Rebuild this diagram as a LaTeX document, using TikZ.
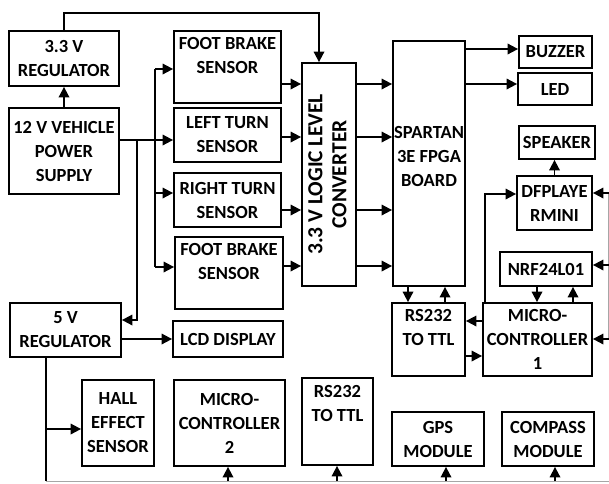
\documentclass[tikz,border=0pt]{standalone}
\usepackage{fontspec}
\usepackage{graphicx}
\setmainfont{Carlito}
\usetikzlibrary{arrows.meta}
\begin{document}
\begin{tikzpicture}[x=1pt,y=-1pt,
  box/.style={draw,line width=1.8pt,inner sep=0pt,align=center,
    font=\fontsize{18.5}{24}\selectfont\bfseries},
  arr/.style={line width=1.8pt,-{Triangle[length=10.5pt,width=10.5pt]}},
  ln/.style={line width=1.8pt},
  faint/.style={line width=0.8pt,draw=black!35}]
\useasboundingbox (0,0) rectangle (609,483);
% boxes
\node[box,minimum width=110pt,minimum height=55pt] (reg33) at (64,58.5) {3.3 V\\REGULATOR};
\node[box,minimum width=110pt,minimum height=86pt] (ps12) at (64,151) {12 V VEHICLE\\POWER\\SUPPLY};
\node[box,minimum width=107pt,minimum height=72pt,text depth=23pt] (fb1) at (227.5,67) {FOOT BRAKE\\SENSOR};
\node[box,minimum width=107pt,minimum height=54pt] (lt) at (227.5,135) {LEFT TURN\\SENSOR};
\node[box,minimum width=107pt,minimum height=54pt] (rt) at (227.5,200) {RIGHT TURN\\SENSOR};
\node[box,minimum width=108pt,minimum height=72pt,text depth=23pt] (fb2) at (229,273) {FOOT BRAKE\\SENSOR};
\node[box,minimum width=110pt,minimum height=36pt] (lcd) at (228,339) {LCD DISPLAY};
\node[box,minimum width=111pt,minimum height=54pt] (reg5) at (65.5,330) {5 V\\REGULATOR};
\node[box,minimum width=72pt,minimum height=86pt] (hall) at (118,423) {HALL\\EFFECT\\SENSOR};
\node[box,minimum width=111pt,minimum height=86pt] (mc2) at (229.5,423) {MICRO-\\CONTROLLER\\2};
\node[box,minimum width=71pt,minimum height=87pt,text depth=37pt] (rs2) at (337.5,421.5) {RS232\\TO TTL};
\node[box,minimum width=92pt,minimum height=54pt] (gps) at (438,439) {GPS\\MODULE};
\node[box,minimum width=92pt,minimum height=54pt] (compass) at (548,439) {COMPASS\\MODULE};
\node[box,minimum width=73pt,minimum height=73pt,text depth=24pt] (rs1) at (428.5,339.5) {RS232\\TO TTL};
\node[box,minimum width=109pt,minimum height=73pt] (mc1) at (537.5,339.5) {MICRO-\\CONTROLLER\\1};
\node[box,minimum width=92pt,minimum height=34pt] (nrf) at (546,269) {NRF24L01};
\node[box,minimum width=72pt,minimum height=245pt,text depth=15pt] (spartan) at (429,163.5) {SPARTAN\\3E FPGA\\BOARD};
\node[box,minimum width=54pt,minimum height=223pt] (conv) at (329,174.5)
  {\rotatebox{90}{\fontsize{21.5}{27}\selectfont\bfseries\begin{tabular}{@{}c@{}}3.3 V LOGIC LEVEL\\[-3pt]CONVERTER\end{tabular}}};
\node[box,minimum width=73pt,minimum height=32pt] (buzzer) at (555.5,52) {BUZZER};
\node[box,minimum width=74pt,minimum height=32pt] (led) at (555,89) {LED};
\node[box,minimum width=76pt,minimum height=33pt] (speaker) at (557,142.5) {SPEAKER};
\node[box,minimum width=75pt,minimum height=54pt] (dfp) at (554.5,203) {DFPLAYE\\RMINI};
% top feed
\coordinate (t1) at (64,13);
\coordinate (t2) at (319,13);
\draw[arr] (reg33.north) -- (t1) -- (t2) -- (t2 |- conv.north);
\draw[arr] (ps12.north) -- (reg33.south);
% 12 V distribution
\coordinate (j1) at (137,140);
\coordinate (j2) at (155,140);
\coordinate (v1) at (155,69);
\coordinate (v3) at (155,193);
\coordinate (v4) at (155,267);
\draw[ln] (ps12.east |- j1) -- (j2);
\draw[ln] (v1) -- (v4);
\draw[arr] (v1) -- (v1 -| fb1.west);
\draw[arr] (j2) -- (j2 -| lt.west);
\draw[arr] (v3) -- (v3 -| rt.west);
\draw[arr] (v4) -- (v4 -| fb2.west);
\coordinate (j3) at (137,320);
\draw[arr] (j1) -- (j3) -- (j3 -| reg5.east);
\draw[arr] (reg5.east |- lcd.west) -- (lcd.west);
% 5 V bus
\coordinate (g0) at (46,481);
\coordinate (g1) at (46,429);
\coordinate (gE) at (612,481);
\draw[faint] (g0) -- (gE);
\draw[ln] (reg5.south -| g0) -- (g0);
\draw[arr] (g1) -- (g1 -| hall.west);
\coordinate (a1) at (228,481);
\coordinate (a2) at (337,481);
\coordinate (a3) at (446,481);
\coordinate (a4) at (555,481);
\draw[arr] (a1) -- (a1 |- mc2.south);
\draw[arr] (a2) -- (a2 |- rs2.south);
\draw[arr] (a3) -- (a3 |- gps.south);
\draw[arr] (a4) -- (a4 |- compass.south);
% sensors -> converter -> FPGA
\coordinate (s1) at (330,84);
\coordinate (s2) at (330,137);
\coordinate (s3) at (330,210);
\coordinate (s4) at (330,266);
\draw[arr] (s1 -| fb1.east) -- (s1 -| conv.west);
\draw[arr] (s2 -| lt.east) -- (s2 -| conv.west);
\draw[arr] (s3 -| rt.east) -- (s3 -| conv.west);
\draw[arr] (s4 -| fb2.east) -- (s4 -| conv.west);
\draw[arr] (s1 -| conv.east) -- (s1 -| spartan.west);
\draw[arr] (s2 -| conv.east) -- (s2 -| spartan.west);
\draw[arr] (s3 -| conv.east) -- (s3 -| spartan.west);
\draw[arr] (s4 -| conv.east) -- (s4 -| spartan.west);
% FPGA outputs
\coordinate (o1) at (500,49);
\coordinate (o2) at (500,84);
\draw[arr] (o1 -| spartan.east) -- (o1 -| buzzer.west);
\draw[arr] (o2 -| spartan.east) -- (o2 -| led.west);
% FPGA <-> RS232
\coordinate (d1) at (408,295);
\coordinate (d2) at (445,295);
\draw[arr] (d1 |- spartan.south) -- (d1 |- rs1.north);
\draw[arr] (d2 |- rs1.north) -- (d2 |- spartan.south);
% MC1 <-> RS232
\coordinate (h1) at (475,321);
\coordinate (h2) at (475,356);
\draw[arr] (h1 -| mc1.west) -- (h1 -| rs1.east);
\draw[arr] (h2 -| rs1.east) -- (h2 -| mc1.west);
% MC1 -> DFPlayer -> speaker
\coordinate (k1) at (485,194);
\draw[arr] (k1 |- mc1.north) -- (k1) -- (k1 -| dfp.west);
\draw[arr] (dfp.north) -- (dfp.north |- speaker.south);
% NRF <-> MC1
\coordinate (n1) at (537,295);
\coordinate (n2) at (573,295);
\draw[arr] (n1 |- nrf.south) -- (n1 |- mc1.north);
\draw[arr] (n2 |- mc1.north) -- (n2 |- nrf.south);
% right edge feeds
\coordinate (r1) at (610,193);
\coordinate (r2) at (610,265);
\coordinate (r3) at (610,339);
\draw[faint] (608.5,193) -- (608.5,339);
\draw[arr] (r1) -- (r1 -| dfp.east);
\draw[arr] (r2) -- (r2 -| nrf.east);
\draw[arr] (r3) -- (r3 -| mc1.east);
\end{tikzpicture}
\end{document}
